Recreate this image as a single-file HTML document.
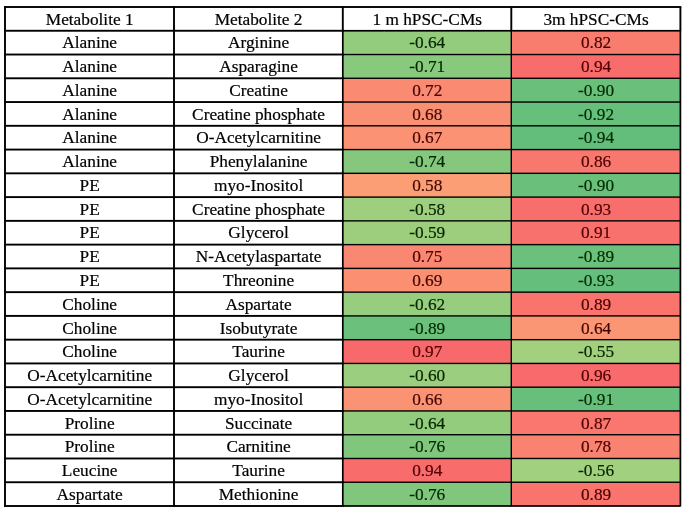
<!DOCTYPE html>
<html lang="en">
<head>
<meta charset="utf-8">
<title>Metabolite correlations</title>
<style>
html,body{margin:0;padding:0;background:#fff;}
body{width:686px;height:511px;position:relative;overflow:hidden;font-family:"Liberation Serif","Times New Roman",serif;font-size:17.30px;color:#000;}
#grid{position:absolute;left:0;top:0;display:block;}
.t{position:absolute;text-align:center;white-space:nowrap;height:24px;line-height:24px;-webkit-text-stroke:0.20px currentColor;}
</style>
</head>
<body>
<svg id="grid" width="686" height="511" viewBox="0 0 686 511">
<rect x="0" y="0" width="686" height="511" fill="#fff"/>
<g>
<rect x="342.80" y="30.762" width="168.50" height="23.762" fill="#94cc7e"/>
<rect x="511.30" y="30.762" width="169.10" height="23.762" fill="#f97d6f"/>
<rect x="342.80" y="54.524" width="168.50" height="23.762" fill="#89c97d"/>
<rect x="511.30" y="54.524" width="169.10" height="23.762" fill="#f86d6c"/>
<rect x="342.80" y="78.286" width="168.50" height="23.762" fill="#fa8b72"/>
<rect x="511.30" y="78.286" width="169.10" height="23.762" fill="#6ac07b"/>
<rect x="342.80" y="102.048" width="168.50" height="23.762" fill="#fa9073"/>
<rect x="511.30" y="102.048" width="169.10" height="23.762" fill="#66bf7b"/>
<rect x="342.80" y="125.810" width="168.50" height="23.762" fill="#fa9273"/>
<rect x="511.30" y="125.810" width="169.10" height="23.762" fill="#63be7b"/>
<rect x="342.80" y="149.571" width="168.50" height="23.762" fill="#84c77d"/>
<rect x="511.30" y="149.571" width="169.10" height="23.762" fill="#f9786e"/>
<rect x="342.80" y="173.333" width="168.50" height="23.762" fill="#fb9e75"/>
<rect x="511.30" y="173.333" width="169.10" height="23.762" fill="#6ac07b"/>
<rect x="342.80" y="197.095" width="168.50" height="23.762" fill="#9ecf7e"/>
<rect x="511.30" y="197.095" width="169.10" height="23.762" fill="#f86e6c"/>
<rect x="342.80" y="220.857" width="168.50" height="23.762" fill="#9cce7e"/>
<rect x="511.30" y="220.857" width="169.10" height="23.762" fill="#f8716d"/>
<rect x="342.80" y="244.619" width="168.50" height="23.762" fill="#fa8771"/>
<rect x="511.30" y="244.619" width="169.10" height="23.762" fill="#6bc07b"/>
<rect x="342.80" y="268.381" width="168.50" height="23.762" fill="#fa8f72"/>
<rect x="511.30" y="268.381" width="169.10" height="23.762" fill="#65be7b"/>
<rect x="342.80" y="292.143" width="168.50" height="23.762" fill="#97cd7e"/>
<rect x="511.30" y="292.143" width="169.10" height="23.762" fill="#f9746d"/>
<rect x="342.80" y="315.905" width="168.50" height="23.762" fill="#6bc07b"/>
<rect x="511.30" y="315.905" width="169.10" height="23.762" fill="#fa9674"/>
<rect x="342.80" y="339.667" width="168.50" height="23.762" fill="#f8696b"/>
<rect x="511.30" y="339.667" width="169.10" height="23.762" fill="#a3d07f"/>
<rect x="342.80" y="363.429" width="168.50" height="23.762" fill="#9bce7e"/>
<rect x="511.30" y="363.429" width="169.10" height="23.762" fill="#f86a6b"/>
<rect x="342.80" y="387.190" width="168.50" height="23.762" fill="#fa9373"/>
<rect x="511.30" y="387.190" width="169.10" height="23.762" fill="#68bf7b"/>
<rect x="342.80" y="410.952" width="168.50" height="23.762" fill="#94cc7e"/>
<rect x="511.30" y="410.952" width="169.10" height="23.762" fill="#f9776e"/>
<rect x="342.80" y="434.714" width="168.50" height="23.762" fill="#80c67d"/>
<rect x="511.30" y="434.714" width="169.10" height="23.762" fill="#f98370"/>
<rect x="342.80" y="458.476" width="168.50" height="23.762" fill="#f86d6c"/>
<rect x="511.30" y="458.476" width="169.10" height="23.762" fill="#a1d07f"/>
<rect x="342.80" y="482.238" width="168.50" height="23.762" fill="#80c67d"/>
<rect x="511.30" y="482.238" width="169.10" height="23.762" fill="#f9746d"/>
</g>
<g fill="#000">
<rect x="4.10" y="6.050" width="339.60" height="1.90"/>
<rect x="341.90" y="6.050" width="339.40" height="1.90"/>
<rect x="4.10" y="29.812" width="339.60" height="1.90"/>
<rect x="342.80" y="29.912" width="337.60" height="1.70"/>
<rect x="4.10" y="53.574" width="339.60" height="1.90"/>
<rect x="342.80" y="53.824" width="337.60" height="1.40"/>
<rect x="4.10" y="77.336" width="339.60" height="1.90"/>
<rect x="342.80" y="77.586" width="337.60" height="1.40"/>
<rect x="4.10" y="101.098" width="339.60" height="1.90"/>
<rect x="342.80" y="101.348" width="337.60" height="1.40"/>
<rect x="4.10" y="124.860" width="339.60" height="1.90"/>
<rect x="342.80" y="125.110" width="337.60" height="1.40"/>
<rect x="4.10" y="148.621" width="339.60" height="1.90"/>
<rect x="342.80" y="148.871" width="337.60" height="1.40"/>
<rect x="4.10" y="172.383" width="339.60" height="1.90"/>
<rect x="342.80" y="172.633" width="337.60" height="1.40"/>
<rect x="4.10" y="196.145" width="339.60" height="1.90"/>
<rect x="342.80" y="196.395" width="337.60" height="1.40"/>
<rect x="4.10" y="219.907" width="339.60" height="1.90"/>
<rect x="342.80" y="220.157" width="337.60" height="1.40"/>
<rect x="4.10" y="243.669" width="339.60" height="1.90"/>
<rect x="342.80" y="243.919" width="337.60" height="1.40"/>
<rect x="4.10" y="267.431" width="339.60" height="1.90"/>
<rect x="342.80" y="267.681" width="337.60" height="1.40"/>
<rect x="4.10" y="291.193" width="339.60" height="1.90"/>
<rect x="342.80" y="291.443" width="337.60" height="1.40"/>
<rect x="4.10" y="314.955" width="339.60" height="1.90"/>
<rect x="342.80" y="315.205" width="337.60" height="1.40"/>
<rect x="4.10" y="338.717" width="339.60" height="1.90"/>
<rect x="342.80" y="338.967" width="337.60" height="1.40"/>
<rect x="4.10" y="362.479" width="339.60" height="1.90"/>
<rect x="342.80" y="362.729" width="337.60" height="1.40"/>
<rect x="4.10" y="386.240" width="339.60" height="1.90"/>
<rect x="342.80" y="386.490" width="337.60" height="1.40"/>
<rect x="4.10" y="410.002" width="339.60" height="1.90"/>
<rect x="342.80" y="410.252" width="337.60" height="1.40"/>
<rect x="4.10" y="433.764" width="339.60" height="1.90"/>
<rect x="342.80" y="434.014" width="337.60" height="1.40"/>
<rect x="4.10" y="457.526" width="339.60" height="1.90"/>
<rect x="342.80" y="457.776" width="337.60" height="1.40"/>
<rect x="4.10" y="481.288" width="339.60" height="1.90"/>
<rect x="342.80" y="481.538" width="337.60" height="1.40"/>
<rect x="4.10" y="505.050" width="339.60" height="1.90"/>
<rect x="342.80" y="505.150" width="337.60" height="1.70"/>
<rect x="4.05" y="6.100" width="1.90" height="500.800"/>
<rect x="173.05" y="6.100" width="1.90" height="500.800"/>
<rect x="341.85" y="7.000" width="1.90" height="23.762"/>
<rect x="341.95" y="30.262" width="1.70" height="476.238"/>
<rect x="510.35" y="7.000" width="1.90" height="23.762"/>
<rect x="510.60" y="30.262" width="1.40" height="476.238"/>
<rect x="679.45" y="7.000" width="1.90" height="23.762"/>
<rect x="679.55" y="30.262" width="1.70" height="476.238"/>
</g>
</svg>
<div class="t" style="left:5.20px;top:8px;width:169.00px;">Metabolite 1</div>
<div class="t" style="left:174.20px;top:8px;width:168.80px;">Metabolite 2</div>
<div class="t" style="left:343.00px;top:8px;width:168.50px;">1 m hPSC-CMs</div>
<div class="t" style="left:511.50px;top:8px;width:169.10px;">3m hPSC-CMs</div>
<div class="t" style="left:5.20px;top:31px;width:169.00px;">Alanine</div>
<div class="t" style="left:174.20px;top:31px;width:168.80px;">Arginine</div>
<div class="t" style="left:343.00px;top:31px;width:168.50px;color:#042500;">-0.64</div>
<div class="t" style="left:511.50px;top:31px;width:169.10px;color:#4b0100;">0.82</div>
<div class="t" style="left:5.20px;top:55px;width:169.00px;">Alanine</div>
<div class="t" style="left:174.20px;top:55px;width:168.80px;">Asparagine</div>
<div class="t" style="left:343.00px;top:55px;width:168.50px;color:#002700;">-0.71</div>
<div class="t" style="left:511.50px;top:55px;width:169.10px;color:#510000;">0.94</div>
<div class="t" style="left:5.20px;top:79px;width:169.00px;">Alanine</div>
<div class="t" style="left:174.20px;top:79px;width:168.80px;">Creatine</div>
<div class="t" style="left:343.00px;top:79px;width:168.50px;color:#460400;">0.72</div>
<div class="t" style="left:511.50px;top:79px;width:169.10px;color:#002a01;">-0.90</div>
<div class="t" style="left:5.20px;top:103px;width:169.00px;">Alanine</div>
<div class="t" style="left:174.20px;top:103px;width:168.80px;">Creatine phosphate</div>
<div class="t" style="left:343.00px;top:103px;width:168.50px;color:#450500;">0.68</div>
<div class="t" style="left:511.50px;top:103px;width:169.10px;color:#002b02;">-0.92</div>
<div class="t" style="left:5.20px;top:126px;width:169.00px;">Alanine</div>
<div class="t" style="left:174.20px;top:126px;width:168.80px;">O-Acetylcarnitine</div>
<div class="t" style="left:343.00px;top:126px;width:168.50px;color:#440500;">0.67</div>
<div class="t" style="left:511.50px;top:126px;width:169.10px;color:#002b03;">-0.94</div>
<div class="t" style="left:5.20px;top:150px;width:169.00px;">Alanine</div>
<div class="t" style="left:174.20px;top:150px;width:168.80px;">Phenylalanine</div>
<div class="t" style="left:343.00px;top:150px;width:168.50px;color:#002700;">-0.74</div>
<div class="t" style="left:511.50px;top:150px;width:169.10px;color:#4d0000;">0.86</div>
<div class="t" style="left:5.20px;top:174px;width:169.00px;">PE</div>
<div class="t" style="left:174.20px;top:174px;width:168.80px;">myo-Inositol</div>
<div class="t" style="left:343.00px;top:174px;width:168.50px;color:#400800;">0.58</div>
<div class="t" style="left:511.50px;top:174px;width:169.10px;color:#002a01;">-0.90</div>
<div class="t" style="left:5.20px;top:198px;width:169.00px;">PE</div>
<div class="t" style="left:174.20px;top:198px;width:168.80px;">Creatine phosphate</div>
<div class="t" style="left:343.00px;top:198px;width:168.50px;color:#072400;">-0.58</div>
<div class="t" style="left:511.50px;top:198px;width:169.10px;color:#500000;">0.93</div>
<div class="t" style="left:5.20px;top:221px;width:169.00px;">PE</div>
<div class="t" style="left:174.20px;top:221px;width:168.80px;">Glycerol</div>
<div class="t" style="left:343.00px;top:221px;width:168.50px;color:#062400;">-0.59</div>
<div class="t" style="left:511.50px;top:221px;width:169.10px;color:#4f0000;">0.91</div>
<div class="t" style="left:5.20px;top:245px;width:169.00px;">PE</div>
<div class="t" style="left:174.20px;top:245px;width:168.80px;">N-Acetylaspartate</div>
<div class="t" style="left:343.00px;top:245px;width:168.50px;color:#480300;">0.75</div>
<div class="t" style="left:511.50px;top:245px;width:169.10px;color:#002a01;">-0.89</div>
<div class="t" style="left:5.20px;top:269px;width:169.00px;">PE</div>
<div class="t" style="left:174.20px;top:269px;width:168.80px;">Threonine</div>
<div class="t" style="left:343.00px;top:269px;width:168.50px;color:#450500;">0.69</div>
<div class="t" style="left:511.50px;top:269px;width:169.10px;color:#002b02;">-0.93</div>
<div class="t" style="left:5.20px;top:293px;width:169.00px;">Choline</div>
<div class="t" style="left:174.20px;top:293px;width:168.80px;">Aspartate</div>
<div class="t" style="left:343.00px;top:293px;width:168.50px;color:#052500;">-0.62</div>
<div class="t" style="left:511.50px;top:293px;width:169.10px;color:#4e0000;">0.89</div>
<div class="t" style="left:5.20px;top:317px;width:169.00px;">Choline</div>
<div class="t" style="left:174.20px;top:317px;width:168.80px;">Isobutyrate</div>
<div class="t" style="left:343.00px;top:317px;width:168.50px;color:#002a01;">-0.89</div>
<div class="t" style="left:511.50px;top:317px;width:169.10px;color:#420600;">0.64</div>
<div class="t" style="left:5.20px;top:340px;width:169.00px;">Choline</div>
<div class="t" style="left:174.20px;top:340px;width:168.80px;">Taurine</div>
<div class="t" style="left:343.00px;top:340px;width:168.50px;color:#520000;">0.97</div>
<div class="t" style="left:511.50px;top:340px;width:169.10px;color:#092400;">-0.55</div>
<div class="t" style="left:5.20px;top:364px;width:169.00px;">O-Acetylcarnitine</div>
<div class="t" style="left:174.20px;top:364px;width:168.80px;">Glycerol</div>
<div class="t" style="left:343.00px;top:364px;width:168.50px;color:#062500;">-0.60</div>
<div class="t" style="left:511.50px;top:364px;width:169.10px;color:#520000;">0.96</div>
<div class="t" style="left:5.20px;top:388px;width:169.00px;">O-Acetylcarnitine</div>
<div class="t" style="left:174.20px;top:388px;width:168.80px;">myo-Inositol</div>
<div class="t" style="left:343.00px;top:388px;width:168.50px;color:#440600;">0.66</div>
<div class="t" style="left:511.50px;top:388px;width:169.10px;color:#002a01;">-0.91</div>
<div class="t" style="left:5.20px;top:412px;width:169.00px;">Proline</div>
<div class="t" style="left:174.20px;top:412px;width:168.80px;">Succinate</div>
<div class="t" style="left:343.00px;top:412px;width:168.50px;color:#042500;">-0.64</div>
<div class="t" style="left:511.50px;top:412px;width:169.10px;color:#4d0000;">0.87</div>
<div class="t" style="left:5.20px;top:435px;width:169.00px;">Proline</div>
<div class="t" style="left:174.20px;top:435px;width:168.80px;">Carnitine</div>
<div class="t" style="left:343.00px;top:435px;width:168.50px;color:#002800;">-0.76</div>
<div class="t" style="left:511.50px;top:435px;width:169.10px;color:#490200;">0.78</div>
<div class="t" style="left:5.20px;top:459px;width:169.00px;">Leucine</div>
<div class="t" style="left:174.20px;top:459px;width:168.80px;">Taurine</div>
<div class="t" style="left:343.00px;top:459px;width:168.50px;color:#510000;">0.94</div>
<div class="t" style="left:511.50px;top:459px;width:169.10px;color:#082400;">-0.56</div>
<div class="t" style="left:5.20px;top:483px;width:169.00px;">Aspartate</div>
<div class="t" style="left:174.20px;top:483px;width:168.80px;">Methionine</div>
<div class="t" style="left:343.00px;top:483px;width:168.50px;color:#002800;">-0.76</div>
<div class="t" style="left:511.50px;top:483px;width:169.10px;color:#4e0000;">0.89</div>
</body>
</html>
